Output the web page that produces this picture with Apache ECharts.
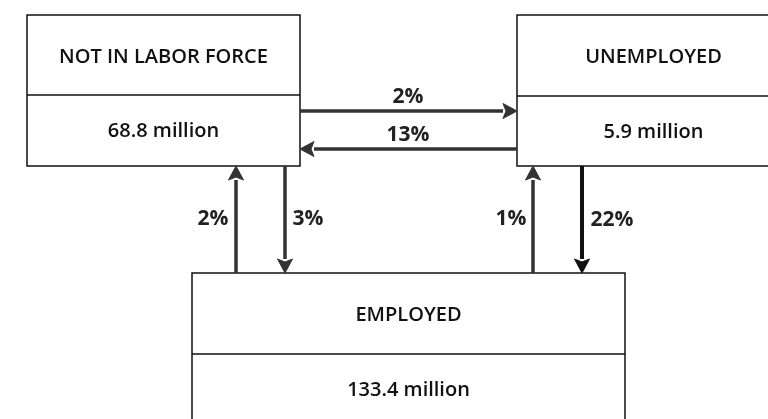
<!DOCTYPE html>
<html>
<head>
<meta charset="utf-8">
<title>Labor force flows</title>
<script src="https://cdn.jsdelivr.net/npm/echarts@6/dist/echarts.min.js"></script>
<style>
  html, body { margin: 0; padding: 0; background: #fff; }
  #flowChart { width: 768px; height: 419px; }
</style>
</head>
<body>
<!-- 图渲染在此处 -->
<div id="flowChart"></div>
<script>
// 状态名称
var states = ['NOT IN LABOR FORCE', 'UNEMPLOYED', 'EMPLOYED'];
// 人数 (百万)
var stocks = ['68.8', '5.9', '133.4'];
// 流动: 从哪个状态到哪个状态, 以及比例 (%)
var flowFrom = [0, 1, 2, 0, 2, 1];
var flowTo   = [1, 0, 0, 2, 1, 2];
var flowRates = [2, 13, 2, 3, 1, 22];

// 布局 (像素坐标, 坐标轴范围 0..768 x 0..419)
// 每个框: [left, top, right, divider, bottom]
var boxLayout = [
  [27, 15, 300, 95, 166],
  [517, 15, 790, 96, 166],
  [192, 273, 625, 354, 440]
];
// 每个箭头: 起点, 终点, 标签位置
var arrowLayout = [
  { from: [300, 111], to: [517, 111], label: [408, 97] },
  { from: [517, 149], to: [300, 149], label: [408, 135] },
  { from: [236, 273], to: [236, 166], label: [213, 219] },
  { from: [285, 166], to: [285, 273], label: [308, 219] },
  { from: [533, 273], to: [533, 166], label: [511, 219] },
  { from: [582, 166], to: [582, 273], label: [612, 220] }
];

var FONT = '"Open Sans", "Noto Sans", sans-serif';

var boxData = states.map(function (name, i) {
  return boxLayout[i].concat([i]);
});
var arrowData = flowRates.map(function (rate, i) {
  var a = arrowLayout[i];
  return [a.from[0], a.from[1], a.to[0], a.to[1], a.label[0], a.label[1], i];
});

function renderBox(params, api) {
  var i = api.value(5);
  var p0 = api.coord([api.value(0), api.value(1)]);
  var p1 = api.coord([api.value(2), api.value(4)]);
  var d = api.coord([api.value(0), api.value(3)]);
  var cx = (p0[0] + p1[0]) / 2;
  var bottomVisible = Math.min(p1[1], 419);
  return {
    type: 'group',
    children: [
      {
        type: 'rect',
        shape: { x: p0[0], y: p0[1], width: p1[0] - p0[0], height: p1[1] - p0[1] },
        style: { fill: '#fff', stroke: '#111', lineWidth: 1.5 }
      },
      {
        type: 'line',
        shape: { x1: p0[0], y1: d[1], x2: p1[0], y2: d[1] },
        style: { stroke: '#111', lineWidth: 1.5 }
      },
      {
        type: 'text',
        style: {
          text: states[i], x: cx, y: (p0[1] + d[1]) / 2 + 2,
          align: 'center', verticalAlign: 'middle',
          font: '600 20px ' + FONT, fill: '#111'
        }
      },
      {
        type: 'text',
        style: {
          text: stocks[i] + ' million', x: cx,
          y: i === 2 ? d[1] + 36 : (d[1] + bottomVisible) / 2 + 1,
          align: 'center', verticalAlign: 'middle',
          font: '600 20px ' + FONT, fill: '#111'
        }
      }
    ]
  };
}

function renderArrow(params, api) {
  var i = api.value(6);
  var a = api.coord([api.value(0), api.value(1)]);
  var b = api.coord([api.value(2), api.value(3)]);
  var l = api.coord([api.value(4), api.value(5)]);
  var dx = b[0] - a[0], dy = b[1] - a[1];
  var len = Math.sqrt(dx * dx + dy * dy);
  var ux = dx / len, uy = dy / len;
  var headLen = 14, headHalf = 7.5;
  var bx = b[0] - ux * headLen, by = b[1] - uy * headLen;
  var big = flowRates[i] >= 20;
  var color = big ? '#111' : '#333';
  return {
    type: 'group',
    children: [
      {
        type: 'line',
        shape: { x1: a[0], y1: a[1], x2: bx, y2: by },
        style: { stroke: color, lineWidth: big ? 4 : 3.5 }
      },
      {
        type: 'polygon',
        shape: {
          points: [
            [b[0], b[1]],
            [bx - uy * headHalf, by + ux * headHalf],
            [bx + ux * 3, by + uy * 3],
            [bx + uy * headHalf, by - ux * headHalf]
          ]
        },
        style: { fill: color, stroke: color, lineWidth: 1 }
      },
      {
        type: 'text',
        style: {
          text: flowRates[i] + '%', x: l[0], y: l[1],
          align: 'center', verticalAlign: 'middle',
          font: 'bold 21px ' + FONT, fill: '#222'
        }
      }
    ]
  };
}

var myChart = echarts.init(document.getElementById('flowChart'));
var option = {
  animation: false,
  grid: { left: 0, right: 0, top: 0, bottom: 0 },
  xAxis: { type: 'value', min: 0, max: 768, show: false },
  yAxis: { type: 'value', min: 0, max: 419, inverse: true, show: false },
  series: [
    {
      type: 'custom',
      renderItem: renderBox,
      data: boxData,
      clip: false,
      silent: true
    },
    {
      type: 'custom',
      renderItem: renderArrow,
      data: arrowData,
      clip: false,
      silent: true
    }
  ]
};
option && myChart.setOption(option);
</script>
</body>
</html>
